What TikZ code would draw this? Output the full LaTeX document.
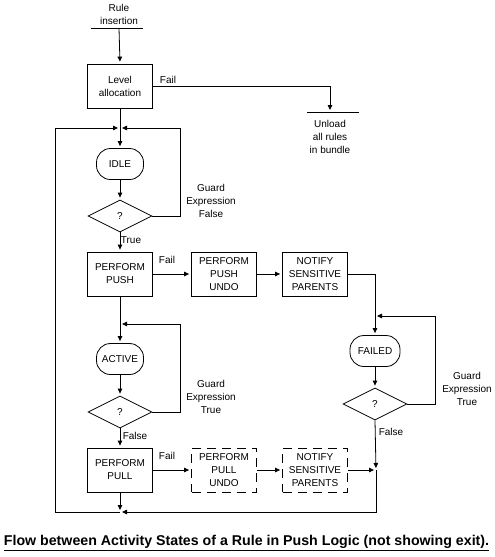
\documentclass[tikz,border=0pt]{standalone}
\usepackage{fontspec}
\setmainfont{Liberation Sans}
\usetikzlibrary{shapes.geometric,arrows.meta}
\begin{document}
\begin{tikzpicture}[x=1pt,y=-1pt,
  every node/.style={font=\fontsize{10}{13}\selectfont, align=center, inner sep=0pt},
  box/.style={draw, line width=0.8pt, minimum width=65pt, minimum height=44pt},
  dbox/.style={box, dash pattern=on 9pt off 6pt},
  stadium/.style={draw, line width=0.8pt, rounded corners=14pt, minimum width=47pt, minimum height=31pt},
  dia/.style={draw, line width=0.8pt, diamond, aspect=2, minimum width=64pt, minimum height=32pt},
  ln/.style={line width=0.8pt},
  arr/.style={ln, -{Triangle[length=5pt,width=4.5pt]}, shorten >=2pt},
  lbl/.style={}]
\useasboundingbox (0,0) rectangle (495,557);
% nodes
\node[lbl] (ri) at (119,14.5) {Rule\\insertion};
\coordinate (riL) at (91,28);
\coordinate (riR) at (143,28);
\coordinate (riB) at (119,28);
\node[box] (lev) at (120,86) {Level\\allocation};
\node[lbl] (fail0) at (168,80) {Fail};
\coordinate (unA) at (330,112);
\coordinate (unL) at (307,112);
\coordinate (unR) at (359,112);
\node[lbl] (unl) at (330,137) {Unload\\all rules\\in bundle};
\coordinate (j1) at (120,128);
\node[stadium] (idle) at (120,164) {IDLE};
\node[dia] (d1) at (120,216) {?};
\node[lbl] (g1) at (211,201) {Guard\\Expression\\False};
\node[lbl] (t1) at (131,240) {True};
\node[box] (push) at (120,274) {PERFORM\\PUSH};
\node[lbl] (fail1) at (167,260) {Fail};
\node[box] (pushu) at (224,274) {PERFORM\\PUSH\\UNDO};
\node[box] (nt1) at (315,274) {NOTIFY\\SENSITIVE\\PARENTS};
\coordinate (j2) at (120,324);
\node[stadium] (act) at (120,359) {ACTIVE};
\node[dia] (d2) at (120,412) {?};
\node[lbl] (g2) at (211,397) {Guard\\Expression\\True};
\node[lbl] (f2) at (135,436) {False};
\node[box] (pull) at (120,470) {PERFORM\\PULL};
\node[lbl] (fail2) at (167,456) {Fail};
\node[dbox] (pullu) at (224,470) {PERFORM\\PULL\\UNDO};
\node[dbox] (nt2) at (315,470) {NOTIFY\\SENSITIVE\\PARENTS};
\coordinate (j3) at (375,316);
\node[stadium, minimum width=50pt] (fl) at (375,351) {FAILED};
\node[dia] (d3) at (375,404) {?};
\node[lbl] (g3) at (467,389) {Guard\\Expression\\True};
\node[lbl] (f3) at (391,432) {False};
\coordinate (jr) at (376,470);
\coordinate (jb) at (120,512);
\coordinate (cbr) at (376,512);
\coordinate (cbl) at (55,512);
\coordinate (c1) at (180,216);
\coordinate (c2) at (180,412);
\coordinate (c3) at (435,404);
\node[font=\bfseries\fontsize{14.2}{16}\selectfont] (cap) at (246.5,543) {\underline{Flow between Activity States of a Rule in Push Logic (not showing exit).}};
% connectors
\draw[ln] (riL) -- (riR);
\draw[arr] (riB) -- (lev.north);
\draw[arr] (lev.east) -| (unA);
\draw[ln] (unL) -- (unR);
\draw[ln] (lev.south) -- (j1);
\draw[arr] (j1) -- (idle.north);
\draw[arr] (idle.south) -- (d1.north);
\draw[arr] (d1.east) -- (c1) |- (j1);
\draw[arr] (d1.south) -- (push.north);
\draw[arr] (push.east) -- (pushu.west);
\draw[arr] (pushu.east) -- (nt1.west);
\draw[arr] (nt1.east) -| (fl.north);
\draw[arr] (fl.south) -- (d3.north);
\draw[arr] (d3.east) -- (c3) |- (j3);
\draw[ln] (push.south) -- (j2);
\draw[arr] (j2) -- (act.north);
\draw[arr] (act.south) -- (d2.north);
\draw[arr] (d2.east) -- (c2) |- (j2);
\draw[arr] (d2.south) -- (pull.north);
\draw[arr] (pull.east) -- (pullu.west);
\draw[arr] (pullu.east) -- (nt2.west);
\draw[arr] (nt2.east) -- (jr);
\draw[arr] (d3.south) -- (jr);
\draw[arr] (jr) -- (cbr) -- (jb);
\draw[arr] (pull.south) -- (jb);
\draw[arr] (jb) -- (cbl) |- (j1);
\end{tikzpicture}
\end{document}
